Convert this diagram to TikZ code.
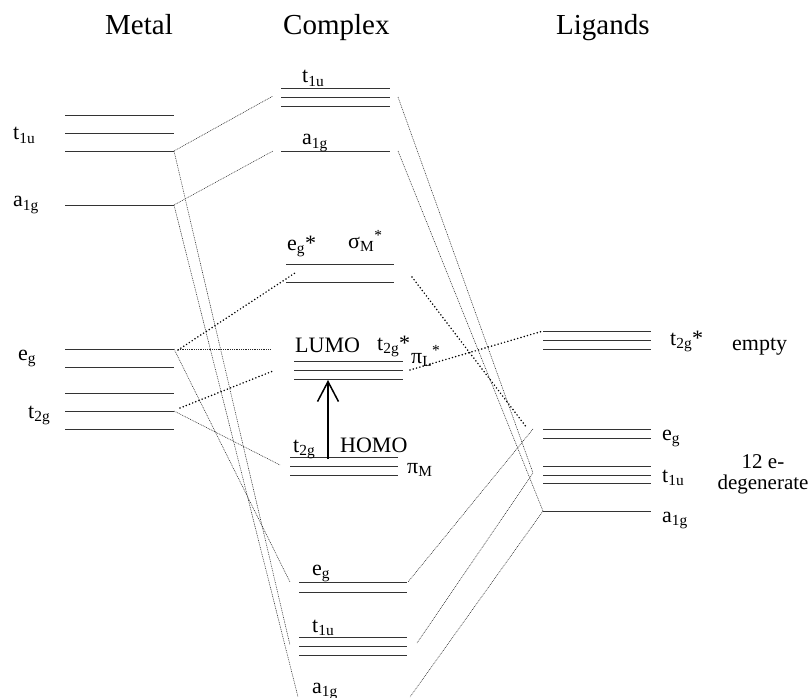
\documentclass[tikz,border=0pt]{standalone}
\usepackage{fontspec}
\setmainfont{Liberation Serif}
\usetikzlibrary{arrows.meta}
\begin{document}
\begin{tikzpicture}[x=1pt,y=-1pt,
  levelline/.style={line width=0.9pt, black!80},
  thindot/.style={line width=0.55pt, black!85, dash pattern=on 0.9pt off 0.9pt},
  thickdot/.style={line width=1.7pt, line cap=round, dash pattern=on 0pt off 3.4pt},
  lab/.style={anchor=base west, inner sep=0pt, font=\fontsize{22}{26}\selectfont},
  labc/.style={anchor=base, inner sep=0pt, font=\fontsize{21}{25}\selectfont},
  head/.style={anchor=base west, inner sep=0pt, font=\fontsize{29}{34}\selectfont},
]
\useasboundingbox (0,0) rectangle (809,698);
\newcommand{\mylevel}[4]{\coordinate (#1L) at (#2,#4); \coordinate (#1R) at (#3,#4); \draw[levelline] (#1L) -- (#1R);}
% headers
\node[head] (hM) at (105,35) {Metal};
\node[head] (hC) at (283,35) {Complex};
\node[head] (hL) at (556,35) {Ligands};
% metal levels
\mylevel{mA}{65}{174}{115}
\mylevel{mB}{65}{174}{133}
\mylevel{mC}{65}{174}{151}
\mylevel{mD}{65}{174}{205}
\mylevel{mE}{65}{174}{349}
\mylevel{mF}{65}{174}{367}
\mylevel{mG}{65}{174}{393}
\mylevel{mH}{65}{174}{411}
\mylevel{mI}{65}{174}{429}
% complex levels
\mylevel{cA}{281}{390}{88}
\mylevel{cB}{281}{390}{97}
\mylevel{cC}{281}{390}{106}
\mylevel{cD}{281}{390}{151}
\mylevel{cE}{286}{394}{264}
\mylevel{cF}{286}{394}{282}
\mylevel{cG}{294}{403}{361}
\mylevel{cH}{294}{403}{370}
\mylevel{cI}{294}{403}{379}
\mylevel{cJ}{290}{398}{457}
\mylevel{cK}{290}{398}{466}
\mylevel{cL}{290}{398}{475}
\mylevel{cM}{299}{407}{582}
\mylevel{cN}{299}{407}{592}
\mylevel{cO}{299}{407}{637}
\mylevel{cP}{299}{407}{646}
\mylevel{cQ}{299}{407}{655}
% ligand levels
\mylevel{lA}{543}{651}{331}
\mylevel{lB}{543}{651}{340}
\mylevel{lC}{543}{651}{349}
\mylevel{lD}{543}{651}{429}
\mylevel{lE}{543}{651}{438}
\mylevel{lF}{543}{651}{466}
\mylevel{lG}{543}{651}{475}
\mylevel{lH}{543}{651}{483}
\mylevel{lI}{543}{651}{511}
% connector end points
\coordinate (c1) at (273,96);
\coordinate (c2) at (273,151);
\coordinate (e1) at (178,349);
\coordinate (c3) at (270,349);
\coordinate (c4) at (280,465);
\coordinate (c5) at (290,582);
\coordinate (c6) at (290,645);
\coordinate (c7) at (298,697);
\coordinate (r1) at (398,97);
\coordinate (l1) at (533,473);
\coordinate (r2) at (398,151);
\coordinate (l2) at (533,429);
\coordinate (r3) at (408,582);
\coordinate (r4) at (417,643);
\coordinate (r5) at (410,697);
\coordinate (e2) at (178,350);
\coordinate (c8) at (295,273);
\coordinate (t2) at (180,408);
\coordinate (c9) at (273,371);
\coordinate (r6) at (412,277);
\coordinate (l3) at (527,428);
\coordinate (r7) at (410,370);
\coordinate (arrB) at (328,459);
\coordinate (arrT) at (328,380);
% thin dotted connectors
\draw[thindot] (mCR) -- (c1);
\draw[thindot] (mDR) -- (c2);
\draw[thindot] (e1) -- (c3);
\draw[thindot] (mHR) -- (c4);
\draw[thindot] (mER) -- (c5);
\draw[thindot] (mCR) -- (c6);
\draw[thindot] (mDR) -- (c7);
\draw[thindot] (r1) -- (l1);
\draw[thindot] (r2) -- (lIL);
\draw[thindot] (l2) -- (r3);
\draw[thindot] (l1) -- (r4);
\draw[thindot] (lIL) -- (r5);
% thick dotted connectors
\draw[thickdot] (e2) -- (c8);
\draw[thickdot] (t2) -- (c9);
\draw[thickdot] (r6) -- (l3);
\draw[thickdot] (r7) -- (lAL);
% arrow
\draw[line width=1.5pt, -{Straight Barb[length=20pt,width=21pt]}] (arrB) -- (arrT);
% metal labels
\node[lab] (mt1u) at (13,140) {t\textsubscript{1u}};
\node[lab] (ma1g) at (13,207) {a\textsubscript{1g}};
\node[lab] (meg) at (18,360) {e\textsubscript{g}};
\node[lab] (mt2g) at (28,418) {t\textsubscript{2g}};
% complex labels
\node[lab] (ct1u) at (302,83) {t\textsubscript{1u}};
\node[lab] (ca1g) at (302,145) {a\textsubscript{1g}};
\node[lab] (ceg) at (287,250) {e\textsubscript{g}*};
\node[lab] (csig) at (348,248) {σ\textsubscript{M}\textsuperscript{*}};
\node[lab] (clumo) at (295,352) {LUMO};
\node[lab] (ct2gs) at (377,350) {t\textsubscript{2g}*};
\node[lab] (cpiL) at (411,363) {π\textsubscript{L}\textsuperscript{*}};
\node[lab] (ct2g) at (293,452) {t\textsubscript{2g}};
\node[lab] (chomo) at (340,452) {HOMO};
\node[lab] (cpiM) at (407,473) {π\textsubscript{M}};
\node[lab] (cegb) at (312,575) {e\textsubscript{g}};
\node[lab] (ct1ub) at (312,632) {t\textsubscript{1u}};
\node[lab] (ca1gb) at (312,693) {a\textsubscript{1g}};
% ligand labels
\node[lab] (lt2g) at (670,345) {t\textsubscript{2g}*};
\node[lab] (lempty) at (732,350) {empty};
\node[lab] (leg) at (662,440) {e\textsubscript{g}};
\node[lab] (lt1u) at (662,482) {t\textsubscript{1u}};
\node[lab] (la1g) at (662,522) {a\textsubscript{1g}};
\node[labc] (l12) at (763,468) {12 e-};
\node[labc] (ldeg) at (763,489) {degenerate};
\end{tikzpicture}
\end{document}
